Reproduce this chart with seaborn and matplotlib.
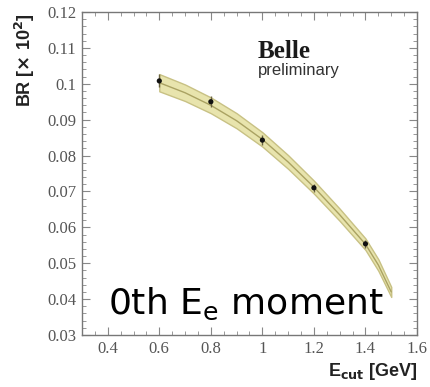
import matplotlib
matplotlib.use("Agg")
import matplotlib.pyplot as plt
import seaborn as sns
import numpy as np
import pandas as pd
from matplotlib.ticker import AutoMinorLocator

# Data
ecut_pts = [0.6, 0.8, 1.0, 1.2, 1.4]
br_pts = [0.1008, 0.0950, 0.0843, 0.0710, 0.0554]
br_err = [0.0018, 0.0016, 0.0014, 0.0012, 0.0012]

ecut_curve = [0.6, 0.7, 0.8, 0.9, 1.0, 1.1, 1.2, 1.3, 1.4, 1.45, 1.5]
br_curve = [0.1003, 0.0975, 0.0940, 0.0897, 0.0845, 0.0782, 0.0712, 0.0635, 0.0553, 0.0495, 0.0420]
band_half = [0.0024, 0.0023, 0.0022, 0.0021, 0.0020, 0.0019, 0.0018, 0.0017, 0.0016, 0.0016, 0.0014]

xticks = [0.4, 0.6, 0.8, 1.0, 1.2, 1.4, 1.6]
xtick_labels = ["0.4", "0.6", "0.8", "1", "1.2", "1.4", "1.6"]
yticks = [0.03, 0.04, 0.05, 0.06, 0.07, 0.08, 0.09, 0.1, 0.11, 0.12]
ytick_labels = ["0.03", "0.04", "0.05", "0.06", "0.07", "0.08", "0.09", "0.1", "0.11", "0.12"]

sns.set_theme(style="ticks")
plt.rcParams['font.family'] = ['DejaVu Sans']

fig = plt.figure(figsize=(4.3, 3.87), dpi=100)
ax = fig.add_axes([82/430, 1-335/387, (417-82)/430, (335-12)/387])

curve = pd.DataFrame({"ecut": ecut_curve, "br": br_curve, "half": band_half})
pts = pd.DataFrame({"ecut": ecut_pts, "br": br_pts, "err": br_err})

lo = curve["br"] - curve["half"]
hi = curve["br"] + curve["half"]
ax.fill_between(curve["ecut"], lo, hi, color="#e8e4ad", edgecolor="#c8c184", linewidth=1.0, zorder=1)
sns.lineplot(data=curve, x="ecut", y="br", ax=ax, color="#aaa262", linewidth=1.0, zorder=2)
ax.errorbar(pts["ecut"], pts["br"], yerr=pts["err"], fmt="none", ecolor="#6b6440", elinewidth=1.0, zorder=3)
sns.scatterplot(data=pts, x="ecut", y="br", ax=ax, color="#111111", s=14, edgecolor="none", zorder=4)

ax.set_xlim(0.3, 1.6)
ax.set_ylim(0.03, 0.12)
ax.set_xticks(xticks)
ax.set_xticklabels(xtick_labels)
ax.set_yticks(yticks)
ax.set_yticklabels(ytick_labels)
ax.xaxis.set_minor_locator(AutoMinorLocator(4))
ax.yaxis.set_minor_locator(AutoMinorLocator(5))
ax.tick_params(which="both", direction="in", top=True, right=True, color="#888888")
ax.tick_params(which="major", length=6, width=0.8, pad=4, labelsize=12, labelcolor="#555555")
ax.tick_params(which="minor", length=3, width=0.6)
for lbl in ax.get_xticklabels() + ax.get_yticklabels():
    lbl.set_fontfamily("Liberation Serif")
for s in ax.spines.values():
    s.set_color("#777777")
    s.set_linewidth(1.0)

ax.set_xlabel("")
ax.set_ylabel("")
fig.text(25/430, 1-60/387, r"BR [$\mathbf{\times}$ 10$^\mathbf{2}$]", rotation=90, ha="center", va="center",
         fontsize=13, fontweight="bold", color="#222222", family="Liberation Sans")
fig.text(417/430, 1-372/387, r"E$_{\mathbf{cut}}$ [GeV]", ha="right", va="center",
         fontsize=13, fontweight="bold", color="#222222", family="Liberation Sans")

fig.text(258/430, 1-58/387, "Belle", ha="left", va="baseline", fontsize=18, fontweight="bold",
         family="Liberation Serif", color="#1a1a1a")
fig.text(258/430, 1-75/387, "preliminary", ha="left", va="baseline", fontsize=12,
         family="Liberation Sans", color="#333333")

fig.text(108/430, 1-314/387, r"0th E$_\mathrm{e}$ moment", ha="left", va="baseline", fontsize=26,
         family="DejaVu Sans", color="black")

fig.savefig("out.png", dpi=100)
